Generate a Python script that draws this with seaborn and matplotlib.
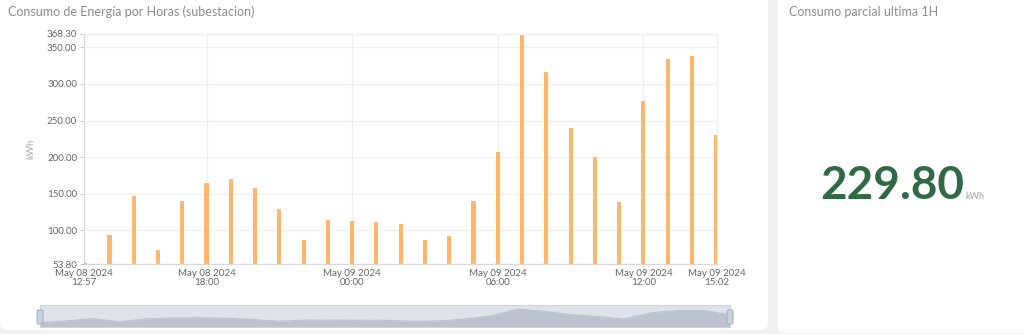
import numpy as np
import pandas as pd
import matplotlib
matplotlib.use("Agg")
import matplotlib.pyplot as plt
import seaborn as sns
from matplotlib.patches import FancyBboxPatch
from matplotlib.transforms import IdentityTransform

# ---------------- data ----------------
title_left = "Consumo de Energía por Horas (subestacion)"
title_right = "Consumo parcial ultima 1H"
y_label = "kWh"
range_start = "2024-05-08 12:57"
range_end = "2024-05-09 15:02"
bar_times = [
    "2024-05-08 13:00", "2024-05-08 14:00", "2024-05-08 15:00", "2024-05-08 16:00",
    "2024-05-08 17:00", "2024-05-08 18:00", "2024-05-08 19:00", "2024-05-08 20:00",
    "2024-05-08 21:00", "2024-05-08 22:00", "2024-05-08 23:00", "2024-05-09 00:00",
    "2024-05-09 01:00", "2024-05-09 02:00", "2024-05-09 03:00", "2024-05-09 04:00",
    "2024-05-09 05:00", "2024-05-09 06:00", "2024-05-09 07:00", "2024-05-09 08:00",
    "2024-05-09 09:00", "2024-05-09 10:00", "2024-05-09 11:00", "2024-05-09 12:00",
    "2024-05-09 13:00", "2024-05-09 14:00", "2024-05-09 15:00",
]
values = [53.8, 93.2, 146.3, 72.8, 140.5, 164.4, 169.5, 157.6, 129.0, 87.2,
          114.4, 112.7, 110.9, 109.0, 87.2, 92.6, 139.6, 207.6, 368.3, 316.8,
          239.5, 199.5, 138.2, 277.2, 334.0, 337.6, 229.8]
tick_times = ["2024-05-08 12:57", "2024-05-08 18:00", "2024-05-09 00:00",
              "2024-05-09 06:00", "2024-05-09 12:00", "2024-05-09 15:02"]
tick_labels = ["May 08 2024\n12:57", "May 08 2024\n18:00", "May 09 2024\n00:00",
               "May 09 2024\n06:00", "May 09 2024\n12:00", "May 09 2024\n15:02"]
y_ticks = [53.8, 100, 150, 200, 250, 300, 350, 368.3]
last_value = "229.80"
unit = "kWh"

# ---------------- helpers ----------------
t0 = pd.Timestamp(range_start)
def to_min(ts):
    return (pd.to_datetime(ts) - t0) / pd.Timedelta(minutes=1)

bar_x = np.asarray(to_min(bar_times), dtype=float)
tick_x = np.asarray(to_min(tick_times), dtype=float)
x_end = float(to_min([range_end])[0])
df = pd.DataFrame({"t": bar_x, "v": values})

sns.set_theme(style="white")
plt.rcParams["font.family"] = ["Lato", "DejaVu Sans"]

W, H = 1024, 334
fig = plt.figure(figsize=(W / 100, H / 100), dpi=100)
fig.patch.set_facecolor("#f1f1f1")

# cards (behind everything)
card_l = FancyBboxPatch((0, 4), 768, 345, boxstyle="round,pad=0,rounding_size=7",
                        transform=IdentityTransform(), facecolor="white",
                        edgecolor="none", zorder=-10)
card_r = FancyBboxPatch((778, 1), 260, 345, boxstyle="round,pad=0,rounding_size=7",
                        transform=IdentityTransform(), facecolor="white",
                        edgecolor="none", zorder=-10)
fig.add_artist(card_l)
fig.add_artist(card_r)

# ---------------- main chart ----------------
ax = fig.add_axes([84 / W, 1 - 264 / H, (717 - 84) / W, (264 - 34) / H])
ax.set_facecolor("none")
sns.barplot(data=df, x="t", y="v", native_scale=True, orient="x", width=0.17,
            color="#ffb56b", saturation=1, errorbar=None, linewidth=0, ax=ax)
# the minimum bar sits on the axis floor: show it as a thin sliver
ax.bar(bar_x[np.argmin(values)], 1.2, bottom=min(values), width=10.2,
       color="#ffb56b", linewidth=0, zorder=3)
ax.set_xlim(0, x_end)
ax.set_ylim(y_ticks[0], y_ticks[-1])
ax.set_yticks(y_ticks)
ax.set_yticklabels([f"{v:.2f}" for v in y_ticks])
ax.set_xticks(tick_x)
ax.set_xticklabels(tick_labels, linespacing=1.0)
ax.set_xlabel("")
ax.set_ylabel(y_label, color="#a8a8a8", fontsize=7, labelpad=8)
ax.tick_params(axis="y", length=3, width=0.8, color="#cccccc", labelsize=7,
               labelcolor="#666666", pad=2, left=True)
ax.tick_params(axis="x", length=0, labelsize=7, labelcolor="#666666", pad=3.5)
ax.grid(True, color="#efefef", linewidth=0.9)
ax.set_axisbelow(True)
for s in ["top", "right"]:
    ax.spines[s].set_color("#efefef")
    ax.spines[s].set_linewidth(0.9)
for s in ["left", "bottom"]:
    ax.spines[s].set_color("#d9d9d9")
    ax.spines[s].set_linewidth(0.9)

# ---------------- slider ----------------
axs = fig.add_axes([40 / W, 1 - 327 / H, (730 - 40) / W, 22 / H])
axs.set_facecolor("#dde2eb")
lo = -45
axs.fill_between(bar_x, values, lo, color="#bcc3ce", linewidth=0)
sns.lineplot(x=bar_x, y=values, ax=axs, color="#bcc3ce", linewidth=0.8)
axs.set_xlim(bar_x[0], bar_x[-1])
axs.set_ylim(lo, 460)
axs.set_xticks([]); axs.set_yticks([])
axs.set_xlabel(""); axs.set_ylabel("")
for s in axs.spines.values():
    s.set_color("#cfd5df")
    s.set_linewidth(0.8)
for hx in (40, 730):
    fig.add_artist(FancyBboxPatch((hx - 3, H - 324), 6, 14,
                                  boxstyle="round,pad=0,rounding_size=1.5",
                                  transform=IdentityTransform(),
                                  facecolor="#c9d2e0", edgecolor="#9eabbf", linewidth=0.7,
                                  zorder=5))

# ---------------- texts ----------------
fig.text(8 / W, 1 - 12 / H, title_left, ha="left", va="center", fontsize=9,
         color="#8c8c8c")
fig.text(789 / W, 1 - 12 / H, title_right, ha="left", va="center", fontsize=9,
         color="#8c8c8c")
fig.text(964 / W, 1 - 199 / H, last_value, ha="right", va="baseline", fontsize=33,
         fontweight="bold", color="#2f6a45")
fig.text(965 / W, 1 - 199 / H, unit, ha="left", va="baseline", fontsize=6.5,
         color="#a0a0a0")

fig.savefig("out.png", dpi=100, facecolor=fig.get_facecolor())
